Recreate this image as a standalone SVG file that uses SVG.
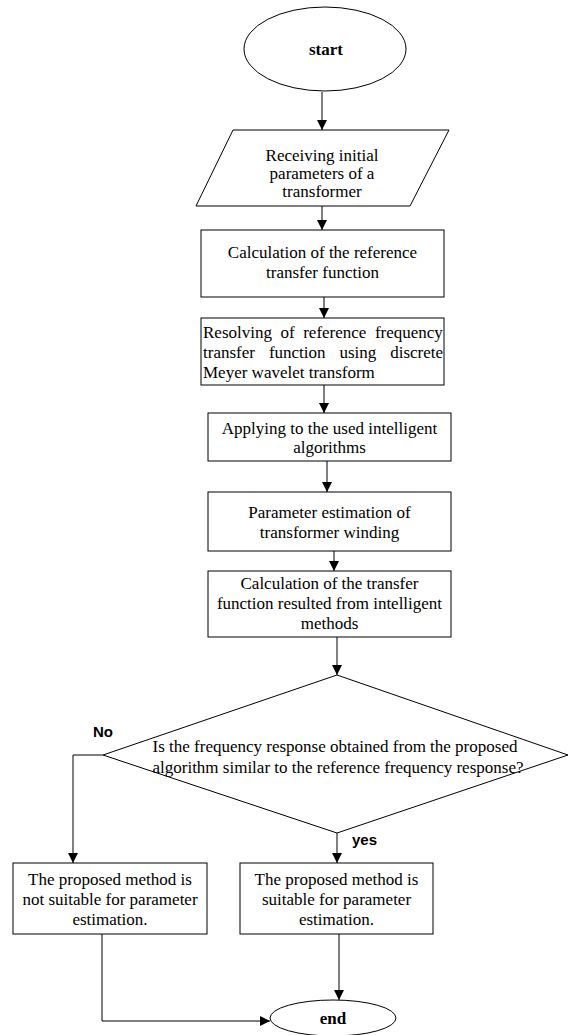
<svg xmlns="http://www.w3.org/2000/svg" width="569" height="1035" viewBox="0 0 569 1035">
<style>
.s{fill:#fff;stroke:#000;stroke-width:1}
.t{font-family:"Liberation Serif","Times New Roman",serif;font-size:17px;fill:#000}
.c{text-anchor:middle}
.b{font-weight:bold}
.lbl{font-family:"Liberation Sans",Arial,sans-serif;font-size:15px;font-weight:bold;fill:#000}
.e{fill:none;stroke:#000;stroke-width:1}
</style>
<defs>
<marker id="ah" markerUnits="userSpaceOnUse" markerWidth="10" markerHeight="12" refX="10" refY="5" orient="auto">
<path d="M0,0 L10,5 L0,10 Z" fill="#000"/>
</marker>
</defs>
<rect width="569" height="1035" fill="#fff"/>
<g id="connectors">
<line class="e" x1="322" y1="92" x2="322" y2="130" marker-end="url(#ah)"/>
<line class="e" x1="322" y1="206" x2="322" y2="230" marker-end="url(#ah)"/>
<line class="e" x1="324" y1="297" x2="324" y2="318" marker-end="url(#ah)"/>
<line class="e" x1="324" y1="385" x2="324" y2="413" marker-end="url(#ah)"/>
<line class="e" x1="327" y1="461" x2="327" y2="492" marker-end="url(#ah)"/>
<line class="e" x1="334" y1="551" x2="334" y2="571" marker-end="url(#ah)"/>
<line class="e" x1="337" y1="637" x2="337" y2="675" marker-end="url(#ah)"/>
<polyline class="e" points="103,755 73,755 73,863" marker-end="url(#ah)"/>
<line class="e" x1="337" y1="833" x2="337" y2="863" marker-end="url(#ah)"/>
<line class="e" x1="339" y1="934" x2="339" y2="1000" marker-end="url(#ah)"/>
<polyline class="e" points="102,934 102,1021 270,1021" marker-end="url(#ah)"/>
</g>
<g id="start">
<ellipse class="s" cx="325" cy="49" rx="81" ry="42"/>
<text class="t c b" x="326" y="55">start</text>
</g>
<g id="receive">
<polygon class="s" points="233,130 449,130 410,206 196,206"/>
<text class="t c" x="322" y="161">Receiving initial</text>
<text class="t c" x="322" y="179">parameters of a</text>
<text class="t c" x="322" y="197">transformer</text>
</g>
<g id="calc-ref">
<rect class="s" x="201" y="230" width="243" height="67"/>
<text class="t c" x="322.5" y="258">Calculation of the reference</text>
<text class="t c" x="322.5" y="278">transfer function</text>
</g>
<g id="resolve">
<rect class="s" x="201" y="318" width="243" height="67"/>
<text class="t" y="338"><tspan x="203">Resolving</tspan><tspan x="280.5">of</tspan><tspan x="303.2">reference</tspan><tspan x="374.9">frequency</tspan></text>
<text class="t" y="358"><tspan x="203">transfer</tspan><tspan x="268.9">function</tspan><tspan x="339.5">using</tspan><tspan x="390.2">discrete</tspan></text>
<text class="t" x="203" y="378">Meyer wavelet transform</text>
</g>
<g id="apply">
<rect class="s" x="208" y="413" width="243" height="48"/>
<text class="t c" x="329.5" y="434">Applying to the used intelligent</text>
<text class="t c" x="329.5" y="453">algorithms</text>
</g>
<g id="estimate">
<rect class="s" x="208" y="492" width="243" height="59"/>
<text class="t c" x="329.5" y="518">Parameter estimation of</text>
<text class="t c" x="329.5" y="538">transformer winding</text>
</g>
<g id="calc-tf">
<rect class="s" x="208" y="571" width="243" height="66"/>
<text class="t c" x="329.5" y="589">Calculation of the transfer</text>
<text class="t c" x="329.5" y="609">function resulted from intelligent</text>
<text class="t c" x="329.5" y="629">methods</text>
</g>
<g id="decision">
<polygon class="s" points="337,675 568,755 337,833 103,755"/>
<text class="t c" x="335" y="752">Is the frequency response obtained from the proposed</text>
<text class="t c" x="338" y="773">algorithm similar to the reference frequency response?</text>
</g>
<g id="labels">
<text class="lbl" x="93" y="737">No</text>
<text class="lbl" x="352" y="845">yes</text>
</g>
<g id="not-suitable">
<rect class="s" x="13" y="863" width="194" height="71"/>
<text class="t c" x="110" y="885">The proposed method is</text>
<text class="t c" x="110" y="905">not suitable for parameter</text>
<text class="t c" x="110" y="925">estimation.</text>
</g>
<g id="suitable">
<rect class="s" x="240" y="863" width="193" height="71"/>
<text class="t c" x="336.5" y="885">The proposed method is</text>
<text class="t c" x="336.5" y="905">suitable for parameter</text>
<text class="t c" x="336.5" y="925">estimation.</text>
</g>
<g id="end">
<ellipse class="s" cx="333" cy="1018" rx="63" ry="18"/>
<text class="t c b" x="333" y="1024">end</text>
</g>
</svg>
